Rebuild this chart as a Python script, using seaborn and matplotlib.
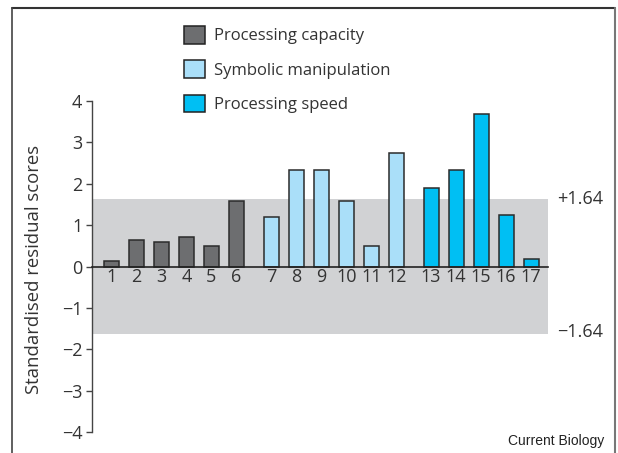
import matplotlib
matplotlib.use("Agg")
import matplotlib.pyplot as plt
from matplotlib.lines import Line2D
import seaborn as sns
import pandas as pd
import numpy as np

# ---- data ----
tasks = [str(i) for i in range(1, 18)]
scores = [0.14, 0.65, 0.59, 0.72, 0.49, 1.58,
          1.19, 2.34, 2.34, 1.58, 0.49, 2.75,
          1.89, 2.34, 3.69, 1.25, 0.18]
groups = (["Processing capacity"] * 6 + ["Symbolic manipulation"] * 6 +
          ["Processing speed"] * 5)
group_order = ["Processing capacity", "Symbolic manipulation", "Processing speed"]
group_colors = {"Processing capacity": "#6d6e70",
                "Symbolic manipulation": "#aadff9",
                "Processing speed": "#00bff3"}
threshold = 1.64
yticks = [-4, -3, -2, -1, 0, 1, 2, 3, 4]

# positions: consecutive within a group, a slightly wider gap between groups
gap = 0.4
pos = []
cur = 0.0
prev = None
for g in groups:
    if prev is not None:
        cur += 1.0 + (gap if g != prev else 0.0)
    pos.append(cur)
    prev = g

df = pd.DataFrame({"pos": pos, "score": scores, "group": groups, "task": tasks})

sns.set_style("ticks")
plt.rcParams["font.family"] = ["Open Sans", "DejaVu Sans"]
TXT = "#333333"
FS = 13

fig = plt.figure(figsize=(6.18, 4.53), dpi=100)
ax = fig.add_axes([92 / 618, 1 - 432 / 453, (548 - 92) / 618, (432 - 101) / 453])

ax.axhspan(-threshold, threshold, color="#d1d2d4", lw=0, zorder=0)

sns.barplot(data=df, x="pos", y="score", hue="group", hue_order=group_order,
            palette=group_colors, saturation=1, native_scale=True, dodge=False,
            width=0.6, edgecolor="#2b2b2b", linewidth=1.1, errorbar=None,
            ax=ax, zorder=2)

ax.set_xlim(pos[0] - 0.78, pos[-1] + 0.68)
ax.set_ylim(-4, 4)
ax.set_yticks(yticks)
ax.set_yticklabels([str(v).replace("-", "\u2212") for v in yticks])
ax.set_xticks(pos)
ax.set_xticklabels(tasks)

for s in ["top", "right"]:
    ax.spines[s].set_visible(False)
ax.spines["bottom"].set_position(("data", 0))
ax.spines["bottom"].set_color("#222222")
ax.spines["bottom"].set_linewidth(1.2)
ax.spines["bottom"].set_zorder(3)
ax.spines["left"].set_color("#444444")
ax.spines["left"].set_linewidth(1.0)

ax.tick_params(axis="x", length=0, pad=1, labelsize=FS, labelcolor=TXT)
ax.tick_params(axis="y", length=4, width=1, color="#444444", pad=3,
               labelsize=FS, labelcolor=TXT)

ax.set_xlabel("")
ax.set_ylabel("Standardised residual scores", fontsize=13.3, color=TXT)
ax.yaxis.set_label_coords(-0.107, 0.49)

tr = matplotlib.transforms.blended_transform_factory(ax.transAxes, ax.transData)
ax.text(1.02, threshold, "+1.64", transform=tr, ha="left", va="center",
        fontsize=FS, color=TXT)
ax.text(1.02, -threshold + 0.05, "\u22121.64", transform=tr, ha="left", va="center",
        fontsize=FS, color=TXT)

handles, labels = ax.get_legend_handles_labels()
leg = ax.legend(handles, labels, loc="upper left",
                bbox_to_anchor=(184 / 618, 1 - 26 / 453),
                bbox_transform=fig.transFigure, frameon=False,
                fontsize=12, handlelength=1.25, handleheight=1.25,
                handletextpad=0.55, labelspacing=0.95, borderpad=0,
                borderaxespad=0)
for t in leg.get_texts():
    t.set_color(TXT)
for h in leg.legend_handles:
    h.set_edgecolor("#222222")
    h.set_linewidth(1.1)

fig.text(604 / 618, 1 - 441 / 453, "Current Biology", ha="right", va="center",
         fontsize=10, color="#222222",
         family=["Liberation Sans Narrow", "Liberation Sans", "DejaVu Sans"])

# frame around the figure
fig.add_artist(Line2D([12 / 618, 615 / 618], [1 - 8 / 453, 1 - 8 / 453],
                      transform=fig.transFigure, color="#333333", lw=1.5))
fig.add_artist(Line2D([12 / 618, 12 / 618], [0, 1 - 8 / 453],
                      transform=fig.transFigure, color="#444444", lw=1.2))
fig.add_artist(Line2D([615 / 618, 615 / 618], [0, 1 - 8 / 453],
                      transform=fig.transFigure, color="#777777", lw=1.5))

fig.savefig("out.png", dpi=100)
